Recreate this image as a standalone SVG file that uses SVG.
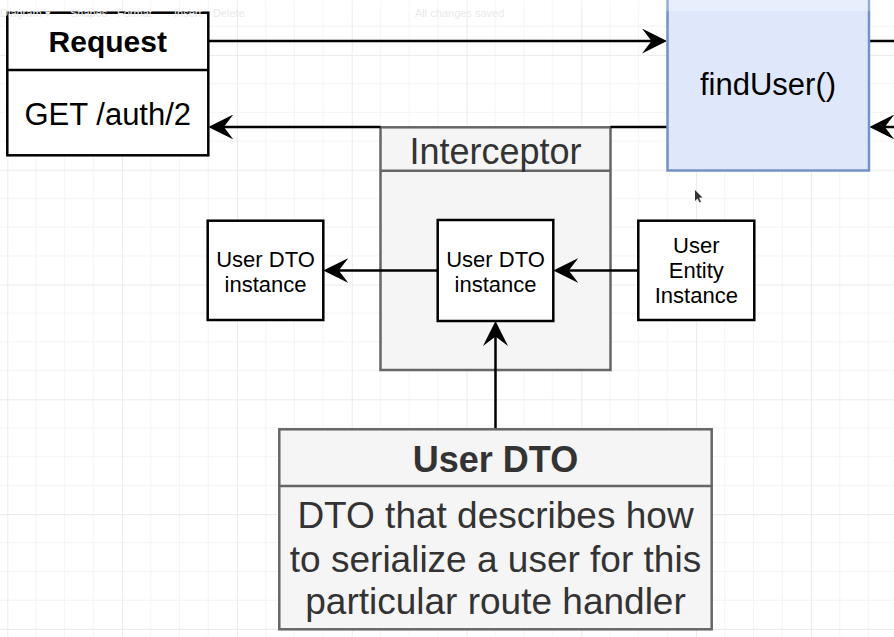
<svg xmlns="http://www.w3.org/2000/svg" width="894" height="637" viewBox="0 0 894 637">
  <style>
    text { font-family: "Liberation Sans", Arial, Helvetica, sans-serif; text-anchor: middle; }
    .box { fill: #ffffff; stroke: #000000; stroke-width: 2.5; }
    .grey { fill: #f5f5f5; stroke: #666666; stroke-width: 2.5; }
    .blue { fill: #dfe8fb; stroke: #7393c8; stroke-width: 2.5; }
    .div-black { stroke: #000000; stroke-width: 2.5; }
    .div-grey { stroke: #666666; stroke-width: 2.5; }
    .edge { fill: none; stroke: #000000; stroke-width: 2.5; }
    .t-black { fill: #000000; }
    .t-grey { fill: #333333; }
    .tb { fill: #e9e9e9; font-size: 11px; text-anchor: start; }
  </style>
  <defs>
    <pattern id="grid" x="7.3" y="54.9" width="114.8" height="114.8" patternUnits="userSpaceOnUse">
      <path d="M28.7,0 V114.8 M57.4,0 V114.8 M86.1,0 V114.8 M0,28.7 H114.8 M0,57.4 H114.8 M0,86.1 H114.8" stroke="#f4f4f4" stroke-width="1" fill="none"/>
      <path d="M0.5,0 V114.8 M0,0.5 H114.8" stroke="#eaeaea" stroke-width="1" fill="none"/>
    </pattern>
    <marker id="arrow" markerUnits="userSpaceOnUse" markerWidth="25" markerHeight="25" viewBox="0 0 25 25" refX="11" refY="12.5" orient="auto">
      <path d="M25,12.5 L0,0 L9.5,12.5 L0,25 Z" fill="#000000"/>
    </marker>
  </defs>

  <rect x="0" y="0" width="894" height="637" fill="#ffffff"/>
  <rect x="0" y="0" width="894" height="637" fill="url(#grid)"/>

  <g id="interceptor">
    <rect class="grey" x="380.5" y="127.3" width="230" height="242.7"/>
    <line class="div-grey" x1="380.5" y1="170.7" x2="610.5" y2="170.7"/>
    <text class="t-grey" x="495.5" y="164.3" font-size="36">Interceptor</text>
  </g>

  <g id="connectors">
    <path class="edge" d="M208.3,41 L653,41" marker-end="url(#arrow)"/>
    <path class="edge" d="M667.5,127 L610.5,127 M380.5,127 L222.3,127" marker-end="url(#arrow)"/>
    <path class="edge" d="M869,41 L894,41"/>
    <path class="edge" d="M900,127 L883.3,127" marker-end="url(#arrow)"/>
    <path class="edge" d="M638.3,270.5 L567.3,270.5" marker-end="url(#arrow)"/>
    <path class="edge" d="M437.7,270.5 L337.3,270.5" marker-end="url(#arrow)"/>
    <path class="edge" d="M495.5,429.3 L495.5,335" marker-end="url(#arrow)"/>
  </g>

  <g id="request">
    <rect class="box" x="7.3" y="12.7" width="201" height="142.6"/>
    <line class="div-black" x1="7.3" y1="70" x2="208.3" y2="70"/>
    <text class="t-black" x="107.8" y="51.7" font-size="30" font-weight="bold">Request</text>
    <text class="t-black" x="107.8" y="124.5" font-size="31">GET /auth/2</text>
  </g>

  <g id="findUser">
    <rect class="blue" x="667.5" y="-3" width="201.5" height="173.5"/>
    <text class="t-black" x="768" y="95" font-size="31">findUser()</text>
  </g>

  <g id="dto-instance-inner">
    <rect class="box" x="437.7" y="220" width="115.6" height="101"/>
    <text class="t-black" x="495.5" y="266.5" font-size="22">User DTO</text>
    <text class="t-black" x="495.5" y="291.7" font-size="22">instance</text>
  </g>

  <g id="dto-instance-out">
    <rect class="box" x="207.7" y="220.7" width="115.6" height="99.3"/>
    <text class="t-black" x="265.5" y="266.5" font-size="22">User DTO</text>
    <text class="t-black" x="265.5" y="291.7" font-size="22">instance</text>
  </g>

  <g id="entity-instance">
    <rect class="box" x="638.3" y="220.7" width="116" height="99.3"/>
    <text class="t-black" x="696.3" y="253.3" font-size="22">User</text>
    <text class="t-black" x="696.3" y="278.3" font-size="22">Entity</text>
    <text class="t-black" x="696.3" y="303.3" font-size="22">Instance</text>
  </g>

  <g id="user-dto">
    <rect class="grey" x="279.3" y="429.3" width="432.4" height="200"/>
    <line class="div-grey" x1="279.3" y1="486" x2="711.7" y2="486"/>
    <text class="t-grey" x="495.5" y="471.7" font-size="36" font-weight="bold">User DTO</text>
    <text class="t-grey" x="495.5" y="528.3" font-size="37">DTO that describes how</text>
    <text class="t-grey" x="495.5" y="571.7" font-size="37">to serialize a user for this</text>
    <text class="t-grey" x="495.5" y="614" font-size="37">particular route handler</text>
  </g>

  <path d="M695,190 L695,201 L697.5,198.5 L699.5,202.5 L701,201.8 L699,197.8 L702.5,197.5 Z" fill="#333333"/>

  <rect x="0" y="0" width="894" height="11" fill="#ffffff" opacity="0.25"/>
  <g>
    <text class="tb" x="0" y="17">Diagram ▾</text>
    <text class="tb" x="70" y="17">Shapes</text>
    <text class="tb" x="117" y="17">Format</text>
    <text class="tb" x="174" y="17">Insert</text>
    <text class="tb" x="213" y="17">Delete</text>
    <text class="tb" x="415" y="17">All changes saved</text>
  </g>
</svg>
